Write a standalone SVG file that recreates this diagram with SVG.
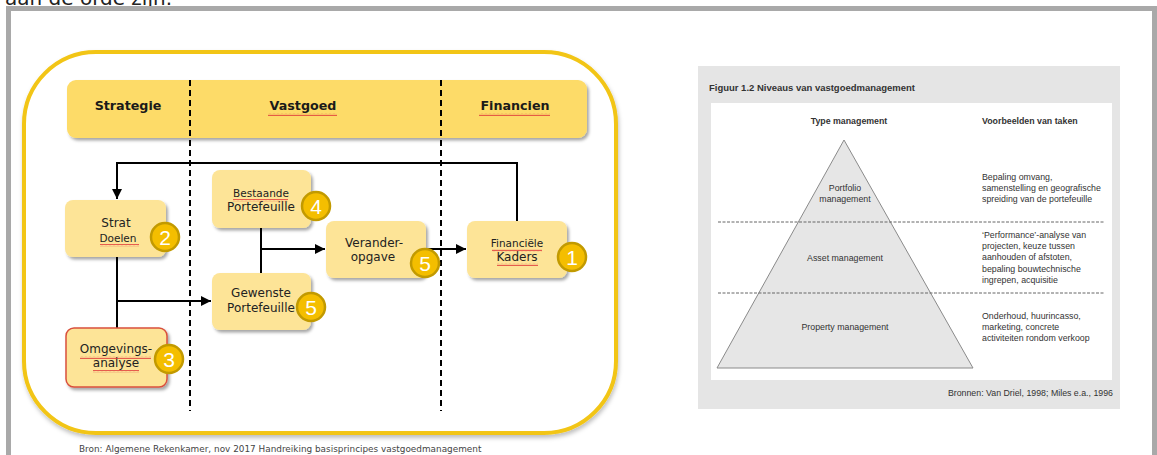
<svg xmlns="http://www.w3.org/2000/svg" width="1157" height="455" viewBox="0 0 1157 455">
<defs>
<style>
.hdr{font-family:"DejaVu Sans",Verdana,sans-serif;font-weight:bold;font-size:12.7px;fill:#1a1a1a;text-anchor:middle}
.bx{fill:#FDE497;stroke:none}
.t12{font-family:"DejaVu Sans",Verdana,sans-serif;font-size:12px;fill:#222;text-anchor:middle}
.t10{font-family:"DejaVu Sans",Verdana,sans-serif;font-size:10.5px;fill:#222;text-anchor:middle}
.badge{fill:#F4BE00;stroke:#C29A00;stroke-width:2.5}
.num{font-family:"Liberation Sans",Arial,sans-serif;font-size:21px;fill:#fff;text-anchor:middle}
.ln{fill:none;stroke:#000;stroke-width:2}
.dash{fill:none;stroke:#000;stroke-width:2;stroke-dasharray:6 4}
.sq{fill:url(#wavy)}
.ft{font-family:"Liberation Sans",Arial,sans-serif;font-size:8.8px;fill:#333}
.ftb{font-family:"Liberation Sans",Arial,sans-serif;font-size:8.8px;fill:#333;font-weight:bold}
.ftc{font-family:"Liberation Sans",Arial,sans-serif;font-size:8.8px;fill:#333;text-anchor:middle;font-weight:bold}
.ftn{font-family:"Liberation Sans",Arial,sans-serif;font-size:8.8px;fill:#333;text-anchor:middle}
</style>
<filter id="sh" x="-10%" y="-10%" width="130%" height="140%">
<feDropShadow dx="2" dy="2.5" stdDeviation="1.5" flood-color="#000" flood-opacity="0.35"/>
</filter>
<filter id="sh2" x="-5%" y="-5%" width="110%" height="115%">
<feDropShadow dx="1" dy="3" stdDeviation="2" flood-color="#000" flood-opacity="0.25"/>
</filter>
<pattern id="wavy" width="4" height="3" patternUnits="userSpaceOnUse">
<path d="M0 2.2 L1 0.8 L2 2.2 L3 0.8 L4 2.2" fill="none" stroke="#E03A3A" stroke-width="0.8"/>
</pattern>
<marker id="ah" viewBox="0 0 10 10" refX="10" refY="5" markerWidth="5" markerHeight="5" orient="auto" markerUnits="strokeWidth">
<path d="M0 0 L10 5 L0 10 Z" fill="#000"/>
</marker>
</defs>

<rect x="0" y="0" width="1157" height="455" fill="#fff"/>
<text x="5" y="5" font-family="DejaVu Sans,Verdana,sans-serif" font-size="20" fill="#222">aan de orde zijn.</text>
<path d="M8.5 460 V8.5 H1154.5 V460" fill="none" stroke="#A9A9A9" stroke-width="5"/>

<!-- left diagram -->
<g id="frame">
<rect x="24" y="52" width="592" height="381" rx="72" ry="72" fill="#fff" stroke="#F2C515" stroke-width="4" filter="url(#sh2)"/>
</g>
<g id="header">
<rect x="67" y="80" width="520" height="58" rx="9" fill="#FDDB67" filter="url(#sh)"/>
<text class="hdr" x="128" y="110">Strategie</text>
<text class="hdr" x="303" y="110">Vastgoed</text>
<text class="hdr" x="515" y="110">Financien</text>
<rect class="sq" x="268" y="113" width="69" height="3"/>
<rect class="sq" x="479" y="113" width="71" height="3"/>
</g>

<g id="dividers">
<line class="dash" x1="190" y1="80" x2="190" y2="411"/>
<line class="dash" x1="441" y1="80" x2="441" y2="411"/>
</g>

<g id="connectors">
<polyline class="ln" points="517,221 517,163 117,163 117,199" marker-end="url(#ah)"/>
<line class="ln" x1="117" y1="257" x2="117" y2="328"/>
<polyline class="ln" points="117,301 211,301" marker-end="url(#ah)"/>
<line class="ln" x1="261" y1="228" x2="261" y2="273"/>
<polyline class="ln" points="261,249 325,249" marker-end="url(#ah)"/>
<polyline class="ln" points="427,249 466,249" marker-end="url(#ah)"/>
</g>

<g id="strat-doelen">
<rect class="bx" x="65" y="200" width="101" height="57" rx="8" filter="url(#sh)"/>
<text class="t12" x="116" y="227">Strat</text>
<text class="t10" x="118" y="242">Doelen</text>
<rect class="sq" x="100" y="244" width="39" height="3"/>
<circle class="badge" cx="165" cy="237" r="14"/>
<text class="num" x="165" y="244.5">2</text>
</g>

<g id="bestaande">
<rect class="bx" x="212" y="170" width="99" height="58" rx="8" filter="url(#sh)"/>
<text class="t10" x="261" y="197">Bestaande</text>
<text class="t12" x="261" y="211">Portefeuille</text>
<rect class="sq" x="233" y="199" width="55" height="3"/>
<circle class="badge" cx="316" cy="206" r="14"/>
<text class="num" x="316" y="213.5">4</text>
</g>

<g id="gewenste">
<rect class="bx" x="212" y="273" width="99" height="57" rx="8" filter="url(#sh)"/>
<text class="t12" x="261" y="297">Gewenste</text>
<text class="t12" x="261" y="312">Portefeuille</text>
<circle class="badge" cx="311" cy="307" r="14"/>
<text class="num" x="311" y="314.5">5</text>
</g>

<g id="verander">
<rect class="bx" x="326" y="221" width="100" height="57" rx="8" filter="url(#sh)"/>
<text class="t12" x="374" y="247">Verander-</text>
<text class="t12" x="373" y="261">opgave</text>
<circle class="badge" cx="425" cy="263" r="14"/>
<text class="num" x="425" y="270.5">5</text>
</g>

<g id="financiele">
<rect class="bx" x="467" y="221" width="100" height="57" rx="8" filter="url(#sh)"/>
<text class="t10" x="517" y="247">Financiële</text>
<text class="t12" x="517" y="261">Kaders</text>
<rect class="sq" x="492" y="249" width="50" height="3"/>
<rect class="sq" x="497" y="263" width="41" height="3"/>
<circle class="badge" cx="572" cy="257" r="14"/>
<text class="num" x="572" y="264.5">1</text>
</g>

<g id="omgevings">
<rect x="66" y="328" width="101" height="59" rx="8" fill="#FDE497" stroke="#D9503C" stroke-width="1.5" filter="url(#sh)"/>
<text class="t12" x="116" y="353">Omgevings-</text>
<text class="t12" x="116" y="367">analyse</text>
<rect class="sq" x="80" y="356" width="71" height="3"/>
<rect class="sq" x="93" y="370" width="46" height="3"/>
<circle class="badge" cx="169" cy="359" r="14"/>
<text class="num" x="169" y="366.5">3</text>
</g>

<text x="79" y="452" font-family="DejaVu Sans,Verdana,sans-serif" font-size="8.9px" fill="#444">Bron: Algemene Rekenkamer, nov 2017 Handreiking basisprincipes vastgoedmanagement</text>

<!-- right figure -->
<g id="figure">
<rect x="698" y="66" width="422" height="343" fill="#E5E5E5"/>
<text class="ftb" x="709" y="91" textLength="206" lengthAdjust="spacingAndGlyphs">Figuur 1.2  Niveaus van vastgoedmanagement</text>
<rect x="711" y="103" width="401" height="277" fill="#fff"/>
<text class="ftc" x="849" y="124">Type management</text>
<text class="ftb" x="982" y="124">Voorbeelden van taken</text>
<polygon points="844,140 973,368 717,368" fill="#E6E6E6" stroke="#8a8a8a" stroke-width="1"/>
<line x1="718" y1="222" x2="1105" y2="222" stroke="#666" stroke-width="1" stroke-dasharray="3 1.5"/>
<line x1="718" y1="293" x2="1105" y2="293" stroke="#666" stroke-width="1" stroke-dasharray="3 1.5"/>
<text class="ftn" x="845" y="191">Portfolio</text>
<text class="ftn" x="845" y="202">management</text>
<text class="ftn" x="845" y="261">Asset management</text>
<text class="ftn" x="845" y="330">Property management</text>
<text class="ft" x="982" y="180">Bepaling omvang,</text>
<text class="ft" x="982" y="191">samenstelling en geografische</text>
<text class="ft" x="982" y="202">spreiding van de portefeuille</text>
<text class="ft" x="982" y="238">‘Performance’-analyse van</text>
<text class="ft" x="982" y="249">projecten, keuze tussen</text>
<text class="ft" x="982" y="260">aanhouden of afstoten,</text>
<text class="ft" x="982" y="272">bepaling bouwtechnische</text>
<text class="ft" x="982" y="283">ingrepen, acquisitie</text>
<text class="ft" x="982" y="319">Onderhoud, huurincasso,</text>
<text class="ft" x="982" y="330">marketing, concrete</text>
<text class="ft" x="982" y="341">activiteiten rondom verkoop</text>
<text class="ft" x="1113" y="396" text-anchor="end">Bronnen: Van Driel, 1998; Miles e.a., 1996</text>
</g>
</svg>
